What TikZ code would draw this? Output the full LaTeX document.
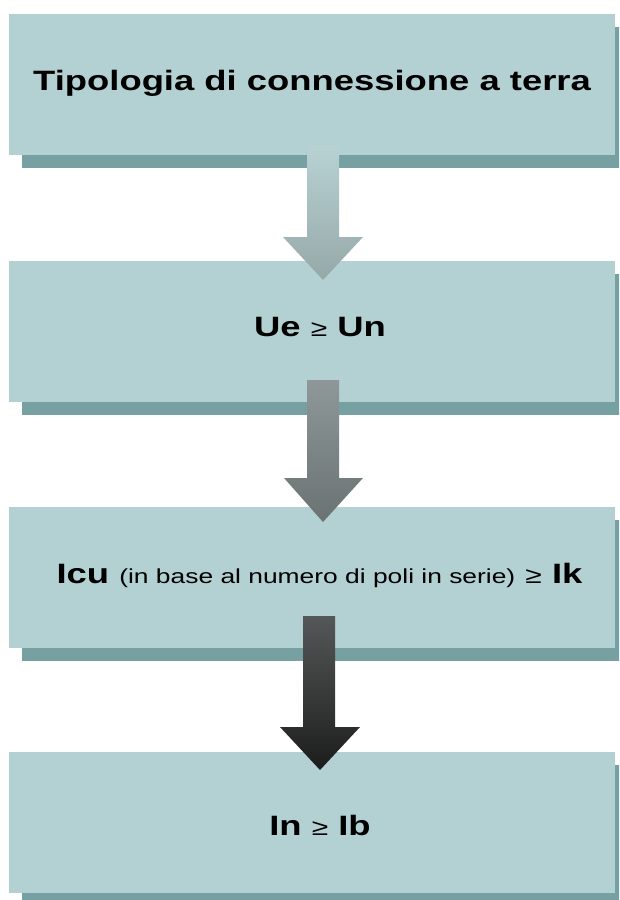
\documentclass[tikz,border=0pt]{standalone}
\usepackage{fontspec}
\setmainfont[FakeStretch=1.3]{Liberation Sans}
\usetikzlibrary{shadows}
\definecolor{boxfill}{HTML}{B3D1D3}
\definecolor{boxshadow}{HTML}{76A0A2}
\definecolor{aonetop}{HTML}{B8D2D4}
\definecolor{aonebot}{HTML}{96A8A8}
\definecolor{atwotop}{HTML}{8E9898}
\definecolor{atwobot}{HTML}{6A7272}
\definecolor{athreetop}{HTML}{555858}
\definecolor{athreebot}{HTML}{1C1C1C}
\tikzset{
  flowbox/.style={fill=boxfill, draw=none, minimum width=606pt, minimum height=141pt,
    inner sep=0pt, general shadow={fill=boxshadow, shadow xshift=13pt, shadow yshift=-13pt}},
  lbl/.style={anchor=base, inner sep=0pt, font=\fontsize{28}{32}\selectfont\bfseries}
}
\newcommand{\geqsym}{{\fontsize{23}{26}\selectfont\mdseries ≥}}
\begin{document}
\begin{tikzpicture}[x=1pt,y=-1pt]
\clip (0,0) rectangle (619,900);
\fill[white] (0,0) rectangle (619,900);
% boxes
\node[flowbox] (b1) at (312,84.5) {};
\node[flowbox] (b2) at (312,331) {};
\node[flowbox] (b3) at (312,577) {};
\node[flowbox] (b4) at (312,822.5) {};
% labels
\node[lbl] (l1) at (312,90) {Tipologia di connessione a terra};
\node[lbl] (l2) at (320,336) {Ue \geqsym{} Un};
\node[lbl] (l3) at (319.5,583) {Icu {\fontsize{20.3}{24}\selectfont\mdseries (in base al numero di poli in serie)} \geqsym{} Ik};
\node[lbl] (l4) at (320,835) {In \geqsym{} Ib};
% arrows
\shade[top color=aonetop, bottom color=aonebot]
  (307,145) -- (339,145) -- (339,237) -- (363,237) -- (323,280) -- (283,237) -- (307,237) -- cycle;
\shade[top color=atwotop, bottom color=atwobot]
  (307,380) -- (339,380) -- (339,478) -- (363,478) -- (323,522) -- (284,478) -- (307,478) -- cycle;
\shade[top color=athreetop, bottom color=athreebot]
  (303,616) -- (335,616) -- (335,727) -- (360,727) -- (320,770) -- (280,727) -- (303,727) -- cycle;
\end{tikzpicture}
\end{document}
